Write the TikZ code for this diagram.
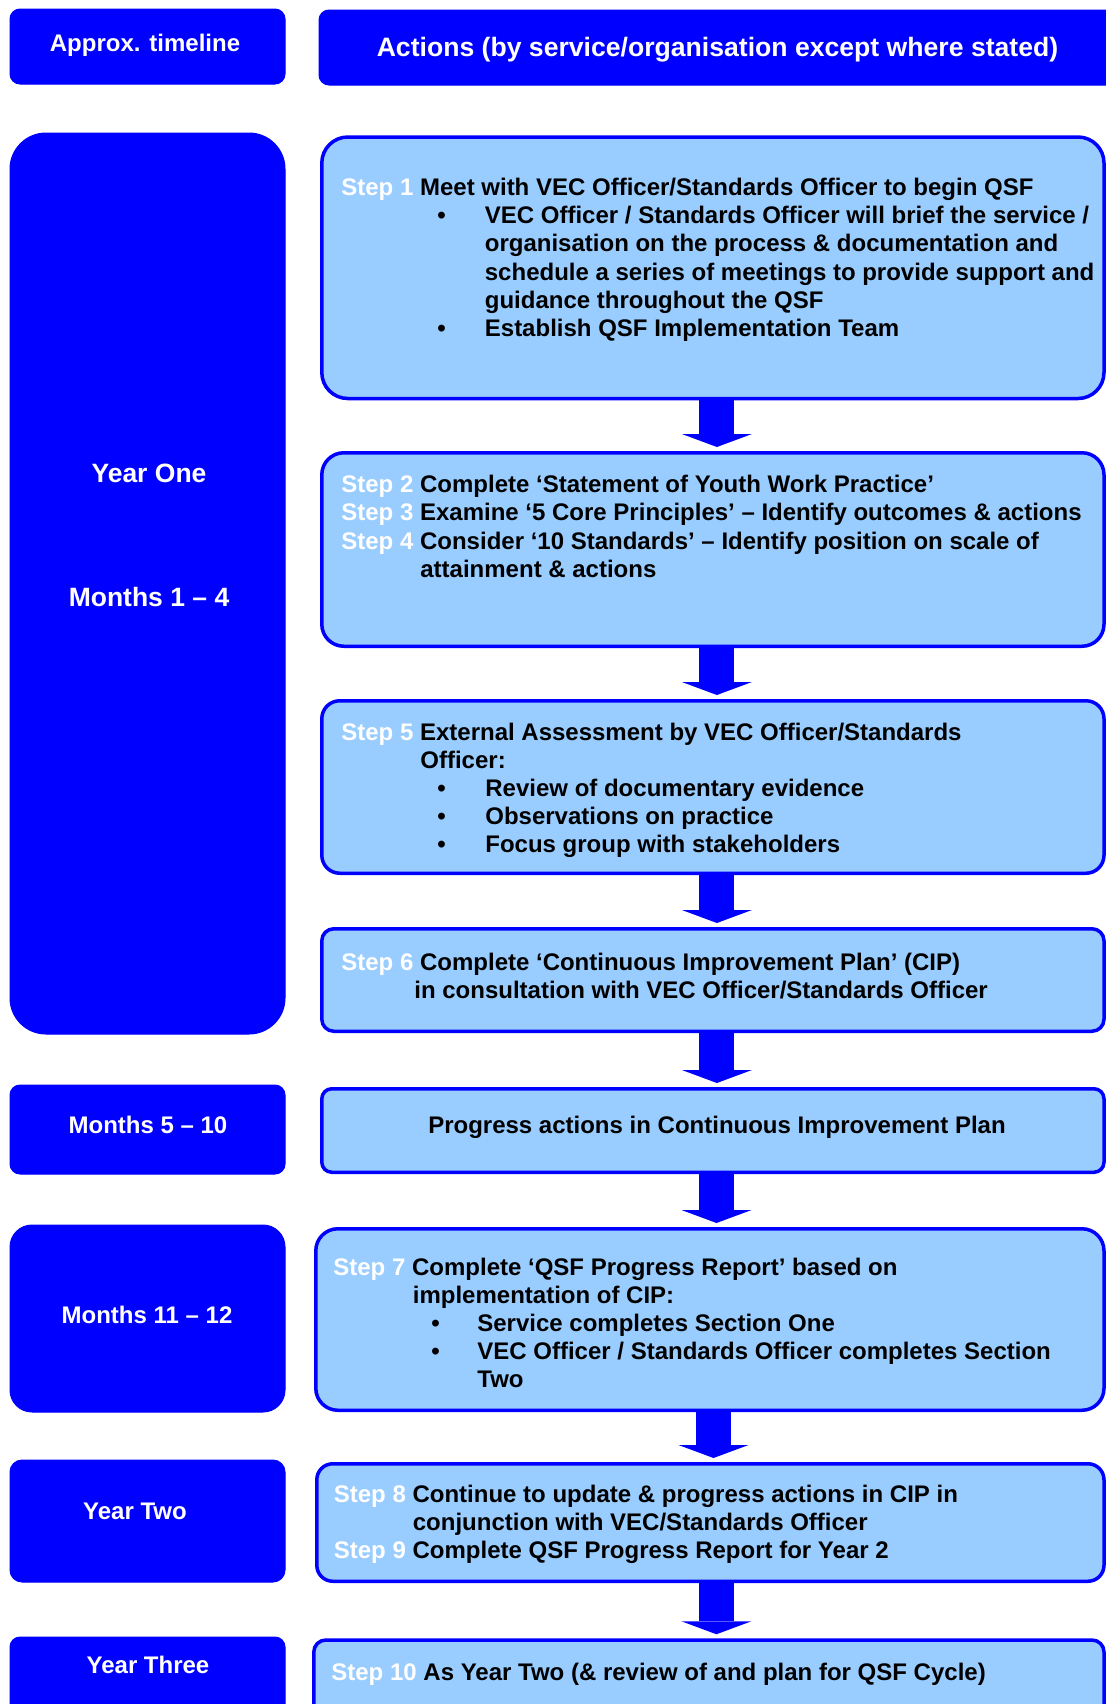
\documentclass[tikz,border=0pt]{standalone}
\usepackage{fontspec}
\setmainfont{Liberation Sans}
\usepackage{xcolor}
\usetikzlibrary{arrows.meta,calc}
\definecolor{flowblue}{RGB}{0,0,255}
\definecolor{paleblue}{RGB}{153,204,255}
\newcommand{\steplbl}[1]{\textcolor{white}{#1}}
\newcommand{\bul}[2]{\makebox[#2][l]{\hspace*{#1}\textbullet}}
\newcommand{\ind}[1]{\makebox[#1]{}}
\newcommand{\steplines}[1]{\begin{tabular}[t]{@{}l@{}}#1\end{tabular}}

\begin{document}
\begin{tikzpicture}[
    x=0.5pt, y=-0.5pt,
    timebox/.style={rectangle, fill=flowblue, draw=flowblue, line width=0.5pt, minimum width=137.5pt, inner sep=0pt},
    actbox/.style={rectangle, fill=paleblue, draw=flowblue, line width=1.75pt, inner sep=0pt},
    timetext/.style={anchor=base, inner sep=0pt, text=white, font=\bfseries\fontsize{12}{14.1}\selectfont},
    acttext/.style={anchor=base west, inner sep=0pt, font=\bfseries\fontsize{12}{14.1}\selectfont},
    flowarrow/.style={draw=flowblue, line width=17.5pt, -{Triangle[width=35pt, length=6.5pt, line width=0pt]}, shorten >=2pt}
]
    \useasboundingbox (0,0) rectangle (1106,1704);
    \clip (0,0) rectangle (1106,1704);

    % Header
    \node[timebox, minimum height=37.5pt, rounded corners=5pt] (hdrL) at (147.5,46.5) {};
    \node[timebox, minimum width=398.5pt, minimum height=37.5pt, rounded corners=5pt] (hdrR) at (717.5,47.5) {};
    \node[timetext] (hdrLt) at (145,51) {Approx. timeline};
    \node[timetext, font=\bfseries\fontsize{13.3}{16}\selectfont] (hdrRt) at (717.5,56.5) {Actions (by service/organisation except where stated)};

    % Timeline
    \node[timebox, minimum height=450.5pt, rounded corners=18pt] (yr1) at (147.5,583.5) {};
    \node[timebox, minimum height=44.5pt, rounded corners=5pt] (m5) at (147.5,1129.5) {};
    \node[timebox, minimum height=93.5pt, rounded corners=11pt] (m11) at (147.5,1318.5) {};
    \node[timebox, minimum height=61pt, rounded corners=6pt] (yr2) at (147.5,1521) {};
    \node[timebox, minimum height=41.5pt, rounded corners=5pt] (yr3) at (147.5,1678.5) {};
    \node[timetext, font=\bfseries\fontsize{13.25}{16}\selectfont] (yr1a) at (149,482) {Year One};
    \node[timetext, font=\bfseries\fontsize{13.25}{16}\selectfont] (yr1b) at (149,606) {Months 1 – 4};
    \node[timetext] (m5t) at (148,1133) {Months 5 – 10};
    \node[timetext] (m11t) at (147,1323) {Months 11 – 12};
    \node[timetext] (yr2t) at (135,1519) {Year Two};
    \node[timetext] (yr3t) at (148,1673) {Year Three};

    % Actions
    \node[actbox, minimum width=391.1pt, minimum height=130.75pt, rounded corners=13pt] (s1) at (712.9,267.75) {};
    \node[actbox, minimum width=391.1pt, minimum height=96.75pt, rounded corners=11pt] (s2) at (712.9,549.5) {};
    \node[actbox, minimum width=391.1pt, minimum height=86.25pt, rounded corners=9pt] (s5) at (712.9,787) {};
    \node[actbox, minimum width=391.1pt, minimum height=51.25pt, rounded corners=6pt] (s6) at (712.9,980) {};
    \node[actbox, minimum width=391.1pt, minimum height=41.75pt, rounded corners=5pt] (prog) at (712.9,1130.5) {};
    \node[actbox, minimum width=394.1pt, minimum height=90.75pt, rounded corners=11pt] (s7) at (709.9,1319.5) {};
    \node[actbox, minimum width=393.6pt, minimum height=58.75pt, rounded corners=8pt] (s8) at (710.4,1522.5) {};
    \node[actbox, minimum width=395.1pt, minimum height=40pt, rounded corners=6pt] (s10) at (708.9,1680) {};

    \node[acttext] (s1t) at (341,195.5) {\steplines{\steplbl{Step 1} Meet with VEC Officer/Standards Officer to begin QSF\\
        \bul{48pt}{71.75pt}VEC Officer / Standards Officer will brief the service /\\
        \ind{71.75pt}organisation on the process \& documentation and\\
        \ind{71.75pt}schedule a series of meetings to provide support and\\
        \ind{71.75pt}guidance throughout the QSF\\
        \bul{48pt}{71.75pt}Establish QSF Implementation Team}};
    \node[acttext] (s2t) at (341,492.7) {\steplines{\steplbl{Step 2} Complete ‘Statement of Youth Work Practice’\\
        \steplbl{Step 3} Examine ‘5 Core Principles’ – Identify outcomes \& actions\\
        \steplbl{Step 4} Consider ‘10 Standards’ – Identify position on scale of\\
        \ind{39.5pt}attainment \& actions}};
    \node[acttext] (s5t) at (341,740) {\steplines{\steplbl{Step 5} External Assessment by VEC Officer/Standards\\
        \ind{39.5pt}Officer:\\
        \bul{48pt}{72pt}Review of documentary evidence\\
        \bul{48pt}{72pt}Observations on practice\\
        \bul{48pt}{72pt}Focus group with stakeholders}};
    \node[acttext] (s6t) at (341,970) {\steplines{\steplbl{Step 6} Complete ‘Continuous Improvement Plan’ (CIP)\\
        \ind{36.5pt}in consultation with VEC Officer/Standards Officer}};
    \node[acttext, anchor=base] (progt) at (717,1133) {Progress actions in Continuous Improvement Plan};
    \node[acttext] (s7t) at (333,1275) {\steplines{\steplbl{Step 7} Complete ‘QSF Progress Report’ based on\\
        \ind{39.75pt}implementation of CIP:\\
        \bul{49pt}{72pt}Service completes Section One\\
        \bul{49pt}{72pt}VEC Officer / Standards Officer completes Section\\
        \ind{72pt}Two}};
    \node[acttext] (s8t) at (333.5,1502) {\steplines{\steplbl{Step 8} Continue to update \& progress actions in CIP in\\
        \ind{39.5pt}conjunction with VEC/Standards Officer\\
        \steplbl{Step 9} Complete QSF Progress Report for Year 2}};
    \node[acttext] (s10t) at (331,1680) {\steplbl{Step 10} As Year Two (\& review of and plan for QSF Cycle)};

    % Flow
    \draw[flowarrow] ($(s1.south)+(2pt,0)$) -- ($(s1.south |- s2.north)+(2pt,0)$);
    \draw[flowarrow] ($(s2.south)+(2pt,0)$) -- ($(s2.south |- s5.north)+(2pt,0)$);
    \draw[flowarrow] ($(s5.south)+(2pt,0)$) -- ($(s5.south |- s6.north)+(2pt,0)$);
    \draw[flowarrow] ($(s6.south)+(2pt,0)$) -- ($(s6.south |- prog.north)+(2pt,0)$);
    \draw[flowarrow] ($(prog.south)+(1.8pt,0)$) -- ($(prog.south |- s7.north)+(1.8pt,0)$);
    \draw[flowarrow] ($(s7.south)+(1.8pt,0)$) -- ($(s7.south |- s8.north)+(1.8pt,0)$);
    \draw[flowarrow] ($(s8.south)+(3pt,0)$) -- ($(s8.south |- s10.north)+(3pt,0)$);
\end{tikzpicture}
\end{document}
